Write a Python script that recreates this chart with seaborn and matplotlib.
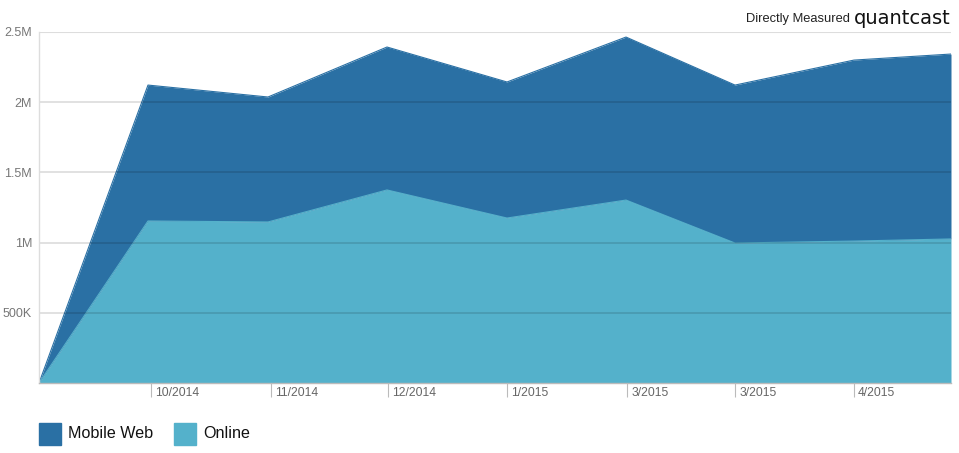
import matplotlib
matplotlib.use("Agg")
import matplotlib.pyplot as plt
import seaborn as sns
import numpy as np
import pandas as pd
from matplotlib.patches import Rectangle

# Data
x_pos = [0, 109, 229, 348, 468, 587, 696, 815, 912]
online = [0, 1.154e6, 1.147e6, 1.375e6, 1.175e6, 1.303e6, 0.997e6, 1.011e6, 1.026e6]
mobile_web = [0, 0.968e6, 0.890e6, 1.018e6, 0.969e6, 1.161e6, 1.125e6, 1.289e6, 1.317e6]
tick_pos = [112, 232, 349, 468, 588, 696, 815]
tick_labels = ["10/2014", "11/2014", "12/2014", "1/2015", "3/2015", "3/2015", "4/2015"]
y_ticks = [500e3, 1e6, 1.5e6, 2e6, 2.5e6]
y_labels = ["500K", "1M", "1.5M", "2M", "2.5M"]
series_names = ["Mobile Web", "Online"]

c_mobile = "#2a70a4"
c_online = "#54b1cb"

sns.set_style("white")
plt.rcParams["font.family"] = ["Liberation Sans", "DejaVu Sans"]

df = pd.DataFrame({"x": x_pos, "Online": online, "Mobile Web": mobile_web})
df["Total"] = df["Online"] + df["Mobile Web"]

fig = plt.figure(figsize=(9.59, 4.53), dpi=100)
ax = fig.add_axes([39/959, 1 - 383/453, (951-39)/959, (383-32)/453])

ax.fill_between(df["x"], 0, df["Online"], color=c_online, lw=0, zorder=2)
ax.fill_between(df["x"], df["Online"], df["Total"], color=c_mobile, lw=0, zorder=2)
sns.lineplot(data=df, x="x", y="Total", ax=ax, color=c_mobile, lw=0.8, zorder=3)
sns.lineplot(data=df, x="x", y="Online", ax=ax, color=c_online, lw=0.8, zorder=3)

ax.set_xlim(0, 912)
ax.set_ylim(0, 2.5e6)

# gridlines drawn over areas
for yv in y_ticks:
    ax.axhline(yv, color="#000000", alpha=0.14, lw=1.2, zorder=4)
ax.axhline(2.5e6, color="#dddddd", lw=1.5, zorder=5, alpha=1)

for s in ["top", "right"]:
    ax.spines[s].set_visible(False)
ax.spines["left"].set_color("#dddddd")
ax.spines["left"].set_linewidth(1)
ax.spines["bottom"].set_color("#bbbbbb")
ax.spines["bottom"].set_linewidth(1)
ax.spines["left"].set_zorder(6)
ax.spines["bottom"].set_zorder(6)

ax.set_yticks(y_ticks)
ax.set_yticklabels(y_labels)
ax.tick_params(axis="y", length=0, pad=5, labelsize=9, labelcolor="#777777")

ax.set_xticks(tick_pos)
ax.set_xticklabels([])
ax.tick_params(axis="x", bottom=True, direction="out", length=10, width=0.8, color="#bbbbbb")
for p, lab in zip(tick_pos, tick_labels):
    ax.annotate(lab, xy=(p, 0), xycoords=("data", "axes fraction"),
                xytext=(3, -3), textcoords="offset points",
                ha="left", va="top", fontsize=8.7, color="#666666")

ax.set_xlabel("")
ax.set_ylabel("")

# header
fig.text(850/959, 1 - 19/453, "Directly Measured", ha="right", va="center",
         fontsize=9.3, color="#222222")
fig.text(951/959, 1 - 19/453, "quantcast", ha="right", va="center",
         fontsize=14, color="#111111", family=["DejaVu Sans"])

# legend
cols = [c_mobile, c_online]
sq_x = [39, 174]
for sx, col, name in zip(sq_x, cols, series_names):
    fig.patches.append(Rectangle((sx/959, 1 - 445/453), 22/959, 22/453,
                                 transform=fig.transFigure, color=col, figure=fig))
    fig.text((sx + 29)/959, 1 - 434/453, name, ha="left", va="center",
             fontsize=11.6, color="#111111")

fig.savefig("out.png", dpi=100)
